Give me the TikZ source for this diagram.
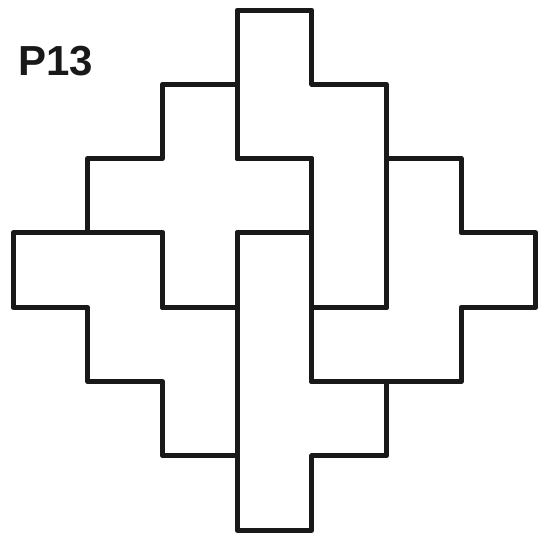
\documentclass[tikz,border=0pt]{standalone}
\usepackage{fontspec}
\setmainfont{Liberation Sans}
\begin{document}
\begin{tikzpicture}[x=1pt,y=-1pt,
  piece/.style={draw=black!90,line width=5pt,line join=round,line cap=round},
  lbl/.style={font=\fontsize{42}{42}\selectfont\bfseries,text=black!90,inner sep=0pt,anchor=base west}]
\useasboundingbox (0,0) rectangle (543,533);
\node[lbl] (title) at (18,75.5) {P13};
\begin{scope}[shift={(13,10)},x=74.7pt,y=-74.3pt]
% piece A (top)
\draw[piece] (3,0) -- (4,0) -- (4,1) -- (5,1) -- (5,4) -- (4,4) -- (4,2) -- (3,2) -- cycle;
% piece B (right)
\draw[piece] (5,2) -- (6,2) -- (6,3) -- (7,3) -- (7,4) -- (6,4) -- (6,5) -- (4,5) -- (4,4) -- (5,4) -- cycle;
% piece C (bottom)
\draw[piece] (3,3) -- (4,3) -- (4,5) -- (5,5) -- (5,6) -- (4,6) -- (4,7) -- (3,7) -- cycle;
% piece D (left)
\draw[piece] (0,3) -- (2,3) -- (2,4) -- (3,4) -- (3,6) -- (2,6) -- (2,5) -- (1,5) -- (1,4) -- (0,4) -- cycle;
% piece E (top-left)
\draw[piece] (2,1) -- (3,1) -- (3,2) -- (4,2) -- (4,3) -- (3,3) -- (3,4) -- (2,4) -- (2,3) -- (1,3) -- (1,2) -- (2,2) -- cycle;
\end{scope}
\end{tikzpicture}
\end{document}
